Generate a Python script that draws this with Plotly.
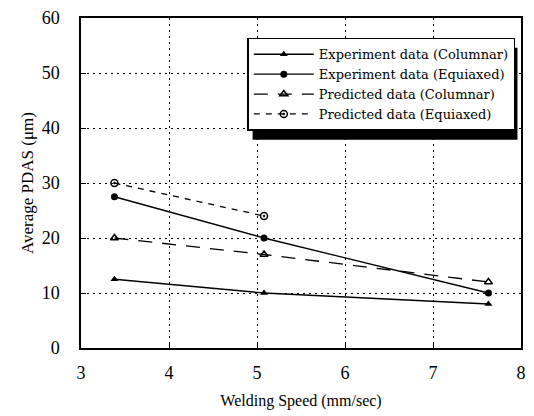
import plotly.graph_objects as go

# Welding speed (mm/sec) and average primary dendrite arm spacing (um)
speed = [3.38, 5.08, 7.63]
exp_columnar = [12.5, 10.0, 8.0]
exp_equiaxed = [27.5, 20.0, 10.0]
pred_columnar = [20.0, 17.0, 12.0]
speed_pred_eq = [3.38, 5.08]
pred_equiaxed = [30.0, 24.0]

x_ticks = [3, 4, 5, 6, 7, 8]
y_ticks = [0, 10, 20, 30, 40, 50, 60]

serif = "Liberation Serif, Times New Roman, serif"

fig = go.Figure()
fig.add_trace(go.Scatter(
    x=speed, y=exp_columnar, name="Experiment data (Columnar)",
    mode="lines+markers", line=dict(color="black", width=1.3),
    marker=dict(symbol="triangle-up", size=7, color="black")))
fig.add_trace(go.Scatter(
    x=speed, y=exp_equiaxed, name="Experiment data (Equiaxed)",
    mode="lines+markers", line=dict(color="black", width=1.3),
    marker=dict(symbol="circle", size=7, color="black")))
fig.add_trace(go.Scatter(
    x=speed, y=pred_columnar, name="Predicted data (Columnar)",
    mode="lines+markers", line=dict(color="black", width=1.3, dash="14px,10px"),
    marker=dict(symbol="triangle-up-open", size=7, color="black",
                line=dict(width=1.5))))
fig.add_trace(go.Scatter(
    x=speed_pred_eq, y=pred_equiaxed, name="Predicted data (Equiaxed)",
    mode="lines+markers", line=dict(color="black", width=1.3, dash="6px,6px"),
    marker=dict(symbol="circle-open-dot", size=7, color="black",
                line=dict(width=1.5))))

axis_common = dict(
    showline=True, linecolor="black", linewidth=1.5, mirror=True,
    showgrid=True, gridcolor="black", gridwidth=1.2, griddash="2px,4px",
    ticks="inside", ticklen=5, tickcolor="black", tickwidth=1.2,
    zeroline=False, tickfont=dict(family=serif, size=18, color="black"),
)

fig.update_xaxes(range=[3, 8], tickvals=x_ticks, ticklabelstandoff=8,
                 title=dict(text="Welding Speed (mm/sec)", standoff=12,
                            font=dict(family=serif, size=16, color="black")),
                 **axis_common)
fig.update_yaxes(range=[0, 60], tickvals=y_ticks, ticklabelstandoff=16,
                 title=dict(text="Average PDAS (μm)", standoff=4,
                            font=dict(family=serif, size=17, color="black")),
                 **axis_common)

# drop shadow offset down and right of the legend box
fig.add_shape(type="rect", xref="paper", yref="paper",
              x0=0.39, x1=0.992, y0=0.631, y1=0.91,
              fillcolor="black", line=dict(width=0), layer="above")

fig.update_layout(
    width=534, height=416,
    margin=dict(l=81, r=8, t=14, b=68),
    paper_bgcolor="white", plot_bgcolor="white",
    showlegend=True,
    legend=dict(x=0.378, y=0.94, xanchor="left", yanchor="top",
                bgcolor="white", bordercolor="black", borderwidth=1.5,
                font=dict(family="DejaVu Serif, serif", size=13, color="black"),
                tracegroupgap=0, itemwidth=60),
)

fig.write_html("out.html")
